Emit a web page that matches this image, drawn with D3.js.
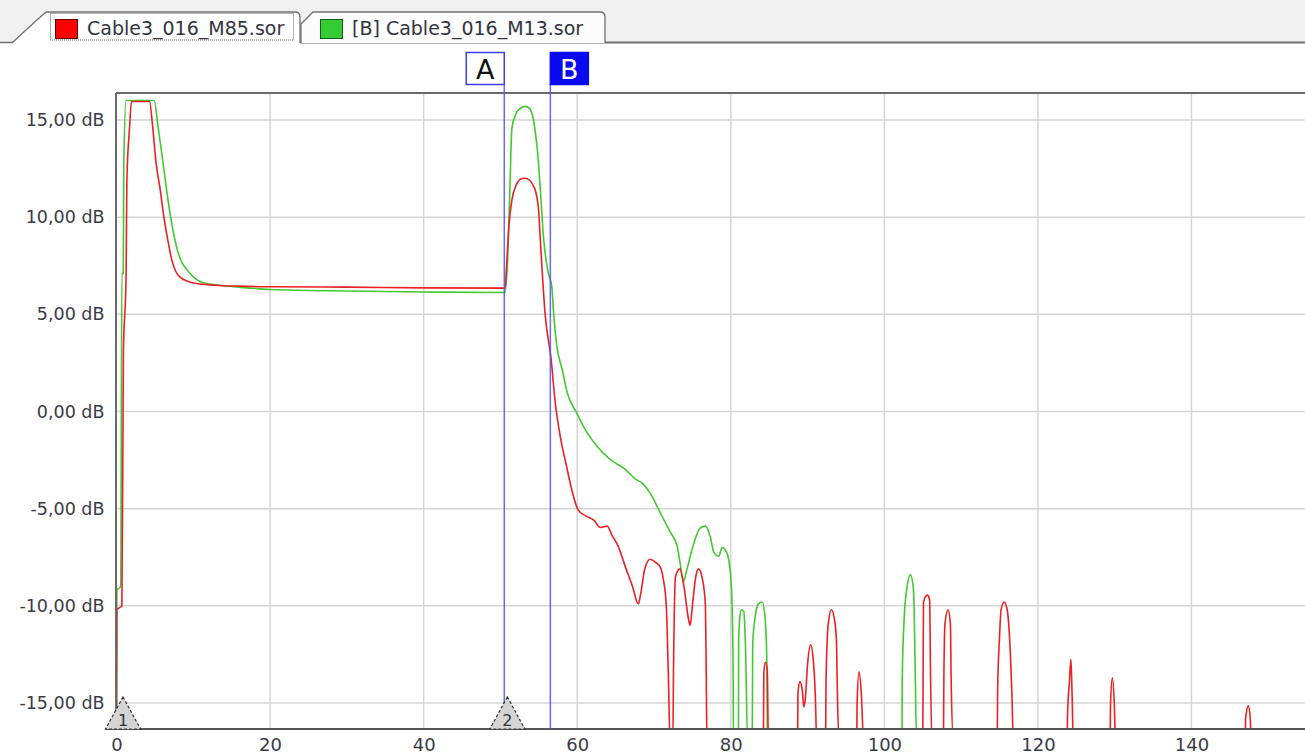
<!DOCTYPE html>
<html>
<head>
<meta charset="utf-8">
<script src="https://cdn.jsdelivr.net/npm/d3@7"></script>
<style>
  body { margin: 0; background: #fff; overflow: hidden; }
  svg { display: block; }
  text { font-family: "DejaVu Sans", Verdana, sans-serif; }
</style>
</head>
<body>
<div id="chart"></div>
<script>
// trace data: [distance, dB] - values below the floor are clipped by the plot area
const redTrace = [
  [0, -17], [0.05, -10.2], [0.7, -10.0], [0.9, 3], [1.25, 7.0], [1.35, 11.9], [1.7, 14.6], [1.95, 15.95],
  [4.3, 15.95], [4.7, 14.7], [5.15, 12.8], [5.7, 11.4], [6.1, 10.2], [6.6, 9.0], [7.2, 7.8], [8.3, 6.9],
  [10.2, 6.6], [12.8, 6.5], [16, 6.45], [20, 6.42], [30, 6.4], [40, 6.36], [50.6, 6.35],
  [50.8, 7.5], [51.1, 9.5], [51.5, 10.9], [52.0, 11.6], [52.6, 11.95], [53.2, 12.0], [53.8, 11.9],
  [54.3, 11.6], [54.6, 11.3], [55.0, 10.2], [55.2, 8.8], [55.35, 7.8], [55.8, 5.1], [56.6, 2.7],
  [57.14, 0.45], [57.8, -1.3], [58.6, -2.8], [59.4, -4.2], [60.1, -5.05], [61.0, -5.35], [62.2, -5.6],
  [63.0, -5.97], [63.9, -5.9], [64.56, -6.4], [65.3, -6.9], [66.25, -7.97], [67.2, -9.0], [67.96, -9.9],
  [68.3, -9.3], [68.8, -8.1], [69.5, -7.6], [70.2, -7.76], [70.8, -8.0], [71.2, -8.6], [71.6, -10],
  [71.86, -13.4], [72.1, -17], [72.45, -17], [72.55, -13], [72.8, -8.5], [73.4, -8.1], [73.9, -9.0],
  [74.5, -10.7], [74.7, -11.0], [75.0, -10], [75.4, -8.6], [75.8, -8.1], [76.3, -8.6], [76.7, -10],
  [76.8, -13.4], [76.9, -17],
  [84.25, -17], [84.3, -13.5], [84.5, -12.9], [84.75, -13.3], [84.9, -17],
  [88.7, -17], [88.75, -14.5], [89.0, -13.9], [89.3, -14.3], [89.5, -15.2], [89.7, -14.8], [90.0, -13],
  [90.4, -12.0], [90.7, -12.6], [91.0, -14.5], [91.2, -17],
  [92.35, -17], [92.4, -13.9], [92.7, -10.9], [93.1, -10.2], [93.5, -10.7], [93.75, -11.7], [93.9, -14.8], [94.1, -17],
  [96.4, -17], [96.45, -15], [96.7, -13.4], [97.0, -14.5], [97.3, -17],
  [105.0, -17], [105.05, -13.3], [105.1, -9.8], [105.6, -9.45], [105.9, -9.7], [106.0, -13.1], [106.2, -17],
  [107.7, -17], [107.75, -13.8], [107.9, -10.9], [108.3, -10.2], [108.6, -10.9], [108.7, -13.8], [109.0, -17],
  [114.7, -17], [114.75, -14.4], [115.0, -11.6], [115.2, -10.2], [115.6, -9.8], [116.0, -10.2], [116.3, -11.6],
  [116.6, -14.4], [116.8, -17],
  [123.8, -17], [123.85, -15.7], [124.1, -13.9], [124.3, -12.75], [124.45, -14.6], [124.6, -17],
  [129.4, -17], [129.45, -15.1], [129.7, -13.7], [129.95, -15.1], [130.1, -17],
  [147.0, -17], [147.05, -15.8], [147.4, -15.15], [147.65, -15.8], [147.8, -17],
  [156, -17]
];

const greenTrace = [
  [0, -17], [0.05, -9.2], [0.55, -9.0], [0.7, 7.1], [0.88, 7.1], [0.95, 12.7], [1.25, 16.0],
  [4.9, 16.0], [5.4, 14.7], [6.06, 12.8], [6.97, 10.2], [8.0, 8.2], [9.6, 7.1], [11.5, 6.6], [13.5, 6.5],
  [16, 6.4], [20, 6.28], [30, 6.2], [40, 6.15], [50.6, 6.12],
  [50.9, 7.5], [51.2, 11], [51.5, 14.6], [52.0, 15.3], [52.6, 15.6], [53.2, 15.7], [53.8, 15.6],
  [54.3, 15.0], [54.6, 14.2], [54.8, 13.5], [55.2, 11.4], [55.6, 9.0], [56.2, 7.2], [56.7, 6.4],
  [56.9, 5.2], [57.3, 3.5], [58.05, 2.15], [58.7, 0.97], [59.9, -0.05], [61.05, -0.93], [62.6, -1.8],
  [64.3, -2.47], [66.3, -2.99], [67.5, -3.45], [68.5, -3.7], [69.5, -4.2], [70.8, -5.2], [72.1, -6.2],
  [73.0, -6.9], [73.4, -7.8], [73.8, -8.8], [74.3, -8.1], [75.1, -6.9], [76.0, -6.0], [76.7, -5.9],
  [77.3, -6.4], [77.8, -7.25], [78.4, -7.45], [78.9, -7.0], [79.4, -7.2], [79.8, -7.8], [80.1, -9.2],
  [80.3, -13.1], [80.35, -17],
  [81.0, -17], [81.02, -11.9], [81.2, -10.5], [81.4, -10.2], [81.7, -10.3], [81.9, -11.9], [82.2, -17],
  [82.8, -17], [82.85, -12], [83.2, -10.5], [83.6, -9.9], [84.1, -9.8], [84.5, -10.8], [84.7, -13], [84.76, -17],
  [102.3, -17], [102.32, -13.9], [102.6, -10.5], [102.9, -9.2], [103.4, -8.4], [103.8, -9.2], [104.0, -12.9], [104.2, -17],
  [156, -17]
];

const yTicks = [-15, -10, -5, 0, 5, 10, 15];
const xTicks = [0, 20, 40, 60, 80, 100, 120, 140];

const tabLabels = ["Cable3_016_M85.sor", "[B] Cable3_016_M13.sor"];
const tabColors = ["#ff0000", "#33cc33"];

const cursorNames = ["A", "B"];
const cursorPos = [50.5, 56.5];

const eventNums = ["1", "2"];
const eventPos = [0.85, 50.9];

// layout
const W = 1305, H = 754;
const plot = { left: 116.5, top: 93, right: 1305, bottom: 729 };

const x = d3.scaleLinear().domain([0, 140]).range([116.5, 1191.5]);
const y = d3.scaleLinear().domain([-15, 15]).range([703, 120]);

const locale = d3.formatLocale({ decimal: ",", thousands: ".", grouping: [3], currency: ["", ""], minus: "-" });
const fmt = locale.format(".2f");

const svg = d3.select("#chart").append("svg")
  .attr("width", W).attr("height", H);

// tab strip
svg.append("rect").attr("x", 0).attr("y", 0).attr("width", W).attr("height", 43).attr("fill", "#f0f0f0");
svg.append("line").attr("x1", 0).attr("x2", 13).attr("y1", 42.5).attr("y2", 42.5)
  .attr("stroke", "#707070").attr("stroke-width", 1.5);
svg.append("line").attr("x1", 300).attr("x2", W).attr("y1", 42.5).attr("y2", 42.5)
  .attr("stroke", "#707070").attr("stroke-width", 2);

// second tab (behind)
svg.append("path")
  .attr("d", "M301,43 L301,24 L313,12 L600,12 Q605,12 605,17 L605,43")
  .attr("fill", "#fcfcfc").attr("stroke", "#707070").attr("stroke-width", 1.3);
// active tab
svg.append("path")
  .attr("d", "M12,43 Q30,26 46,12 L295,12 Q300,12 300,17 L300,43")
  .attr("fill", "#ffffff").attr("stroke", "#707070").attr("stroke-width", 1.3);
svg.append("rect").attr("x", 50.5).attr("y", 13.5).attr("width", 243).attr("height", 26.5)
  .attr("fill", "none").attr("stroke", "#666").attr("stroke-width", 1).attr("stroke-dasharray", "1,1");

const tabX = [55, 320];
tabLabels.forEach((t, i) => {
  svg.append("rect").attr("x", tabX[i] + 0.5).attr("y", 19.5).attr("width", 22).attr("height", 19)
    .attr("fill", tabColors[i]).attr("stroke", i === 0 ? "#600000" : "#1a5a1a").attr("stroke-width", 1);
  svg.append("text").attr("x", tabX[i] + 32).attr("y", 35)
    .attr("font-size", 19).attr("fill", "#34343f").text(t);
});

// grid
const grid = svg.append("g");
grid.selectAll(".hg").data(yTicks).join("line")
  .attr("x1", plot.left).attr("x2", plot.right)
  .attr("y1", d => y(d)).attr("y2", d => y(d))
  .attr("stroke", "#d6d6d6").attr("stroke-width", 1.5);
grid.selectAll(".vg").data(xTicks.filter(d => d > 0)).join("line")
  .attr("x1", d => x(d)).attr("x2", d => x(d))
  .attr("y1", plot.top).attr("y2", plot.bottom)
  .attr("stroke", "#d6d6d6").attr("stroke-width", 1.5);

// axes labels
const yAxis = svg.append("g").attr("transform", `translate(${plot.left},0)`)
  .call(d3.axisLeft(y).tickValues(yTicks).tickSize(0).tickPadding(12).tickFormat(d => fmt(d) + " dB"));
yAxis.select(".domain").remove();
yAxis.selectAll("text").attr("font-size", 17.5).attr("fill", "#3a3a46")
  .attr("font-family", "DejaVu Sans, Verdana, sans-serif");

const xAxis = svg.append("g").attr("transform", `translate(0,${plot.bottom})`)
  .call(d3.axisBottom(x).tickValues(xTicks).tickSize(0).tickPadding(9).tickFormat(d3.format("d")));
xAxis.select(".domain").remove();
xAxis.selectAll("text").attr("font-size", 18).attr("fill", "#3a3a46")
  .attr("font-family", "DejaVu Sans, Verdana, sans-serif");

// traces
svg.append("defs").append("clipPath").attr("id", "clip")
  .append("rect").attr("x", plot.left).attr("y", plot.top)
  .attr("width", plot.right - plot.left).attr("height", plot.bottom - plot.top);

const line = d3.line().x(d => x(d[0])).y(d => y(d[1])).curve(d3.curveMonotoneX);
const traces = svg.append("g").attr("clip-path", "url(#clip)");
traces.append("path").datum(greenTrace).attr("d", line)
  .attr("fill", "none").attr("stroke", "#44c832").attr("stroke-width", 1.6);
traces.append("path").datum(redTrace).attr("d", line)
  .attr("fill", "none").attr("stroke", "#ec2024").attr("stroke-width", 1.6);

// frame
svg.append("line").attr("x1", plot.left - 0.5).attr("x2", plot.right).attr("y1", plot.top).attr("y2", plot.top)
  .attr("stroke", "#6a6a6a").attr("stroke-width", 2);
svg.append("line").attr("x1", plot.left - 0.5).attr("x2", plot.left - 0.5).attr("y1", plot.top).attr("y2", plot.bottom)
  .attr("stroke", "#6a6a6a").attr("stroke-width", 2);
svg.append("line").attr("x1", 105).attr("x2", plot.right).attr("y1", plot.bottom).attr("y2", plot.bottom)
  .attr("stroke", "#555").attr("stroke-width", 2);

// cursors A / B
cursorNames.forEach((n, i) => {
  const cx = x(cursorPos[i]);
  svg.append("line").attr("x1", cx).attr("x2", cx).attr("y1", 84).attr("y2", plot.bottom)
    .attr("stroke", "#5050f5").attr("stroke-width", 1.5).attr("opacity", 0.85);
  const bx = i === 0 ? cx - 38 : cx;
  svg.append("rect").attr("x", bx).attr("y", 52.5).attr("width", 38).attr("height", 32)
    .attr("fill", i === 0 ? "#ffffff" : "#0a0af0")
    .attr("stroke", i === 0 ? "#3c3cf0" : "#0a0af0").attr("stroke-width", 1.5);
  svg.append("text").attr("x", bx + 19).attr("y", 78.5).attr("text-anchor", "middle")
    .attr("font-size", 27).attr("fill", i === 0 ? "#111" : "#ffffff").text(n);
});

// event markers
eventNums.forEach((n, i) => {
  const ex = x(eventPos[i]);
  svg.append("path")
    .attr("d", `M${ex},697 L${ex - 17.5},729 L${ex + 17.5},729 Z`)
    .attr("fill", "#d4d4d4").attr("stroke", "#333").attr("stroke-width", 1.2)
    .attr("stroke-dasharray", "3,2");
  svg.append("text").attr("x", ex).attr("y", 726).attr("text-anchor", "middle")
    .attr("font-size", 16).attr("fill", "#333").text(n);
});
</script>
</body>
</html>
